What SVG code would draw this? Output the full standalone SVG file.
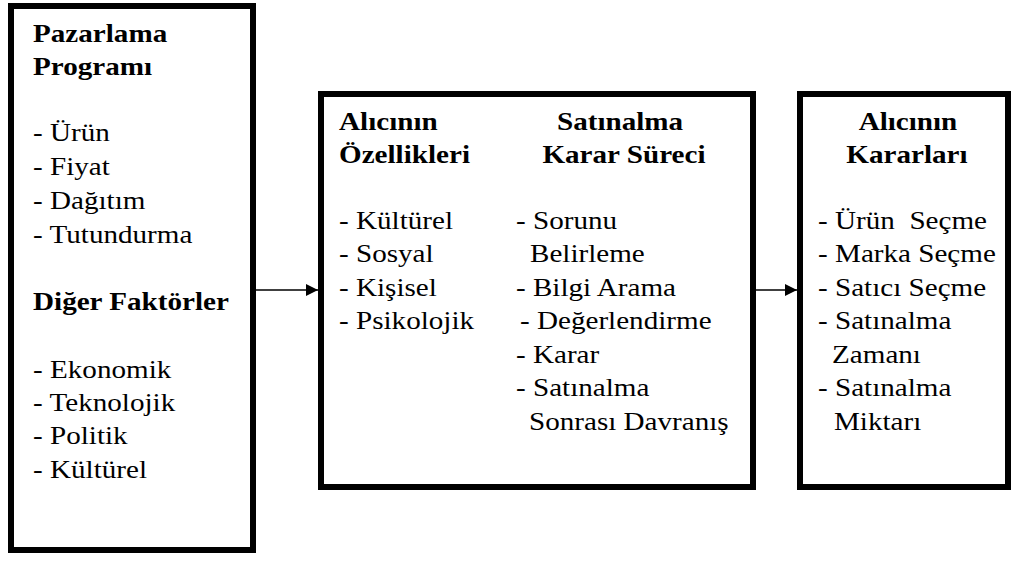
<svg xmlns="http://www.w3.org/2000/svg" width="1015" height="561" viewBox="0 0 1015 561">
  <style>
    .box { fill: #ffffff; stroke: #000000; stroke-width: 6; }
    .t { font-family: 'Liberation Serif', 'DejaVu Serif', serif; font-size: 26px; fill: #000000; }
    .b { font-weight: bold; }
    .mid { text-anchor: middle; }
    .conn { stroke: #000000; stroke-width: 1.6; fill: none; }
  </style>
  <defs>
    <marker id="arrow" viewBox="0 0 12 12" refX="12" refY="6" markerWidth="12" markerHeight="12" markerUnits="userSpaceOnUse" orient="auto">
      <path d="M0,0 L12,6 L0,12 Z" fill="#000000"/>
    </marker>
  </defs>
  <rect width="1015" height="561" fill="#ffffff"/>

  <!-- Inputs: marketing programme and other factors -->
  <g id="node-pazarlama" font-family="Liberation Serif, serif">
    <rect class="box" x="11" y="6" width="242" height="544"/>
    <g transform="scale(1.12 1)">
      <text class="t b" x="29.5" y="42">Pazarlama</text>
      <text class="t b" x="29.5" y="75">Programı</text>
      <text class="t" x="29.5" y="141">- Ürün</text>
      <text class="t" x="29.5" y="175">- Fiyat</text>
      <text class="t" x="29.5" y="209">- Dağıtım</text>
      <text class="t" x="29.5" y="243">- Tutundurma</text>
      <text class="t b" x="29.5" y="310">Diğer Faktörler</text>
      <text class="t" x="29.5" y="378">- Ekonomik</text>
      <text class="t" x="29.5" y="411">- Teknolojik</text>
      <text class="t" x="29.5" y="444">- Politik</text>
      <text class="t" x="29.5" y="478">- Kültürel</text>
    </g>
  </g>

  <!-- Buyer's black box: characteristics and decision process -->
  <g id="node-alici">
    <rect class="box" x="321" y="94" width="432" height="393"/>
    <g transform="scale(1.12 1)">
      <text class="t b" x="302.7" y="130">Alıcının</text>
      <text class="t b" x="302.7" y="163">Özellikleri</text>
      <text class="t" x="302.7" y="229">- Kültürel</text>
      <text class="t" x="302.7" y="262">- Sosyal</text>
      <text class="t" x="302.7" y="296">- Kişisel</text>
      <text class="t" x="302.7" y="329">- Psikolojik</text>

      <text class="t b mid" x="553.6" y="130">Satınalma</text>
      <text class="t b mid" x="557.1" y="163">Karar Süreci</text>
      <text class="t" x="460.7" y="229">- Sorunu</text>
      <text class="t" x="473.2" y="262">Belirleme</text>
      <text class="t" x="460.7" y="296">- Bilgi Arama</text>
      <text class="t" x="464.3" y="329">- Değerlendirme</text>
      <text class="t" x="460.7" y="363">- Karar</text>
      <text class="t" x="460.7" y="396">- Satınalma</text>
      <text class="t" x="472.3" y="430">Sonrası Davranış</text>
    </g>
  </g>

  <!-- Buyer's decisions -->
  <g id="node-kararlar">
    <rect class="box" x="800" y="94" width="208" height="393"/>
    <g transform="scale(1.12 1)">
      <text class="t b mid" x="810.7" y="130">Alıcının</text>
      <text class="t b mid" x="809.8" y="163">Kararları</text>
      <text class="t" x="730.4" y="229" xml:space="preserve">- Ürün  Seçme</text>
      <text class="t" x="730.4" y="262">- Marka Seçme</text>
      <text class="t" x="730.4" y="296">- Satıcı Seçme</text>
      <text class="t" x="730.4" y="329">- Satınalma</text>
      <text class="t" x="742.9" y="363">Zamanı</text>
      <text class="t" x="730.4" y="396">- Satınalma</text>
      <text class="t" x="744.6" y="430">Miktarı</text>
    </g>
  </g>

  <!-- Connectors -->
  <g id="connectors">
    <line class="conn" x1="256" y1="290" x2="318" y2="290" marker-end="url(#arrow)"/>
    <line class="conn" x1="756" y1="290" x2="797" y2="290" marker-end="url(#arrow)"/>
  </g>
</svg>
